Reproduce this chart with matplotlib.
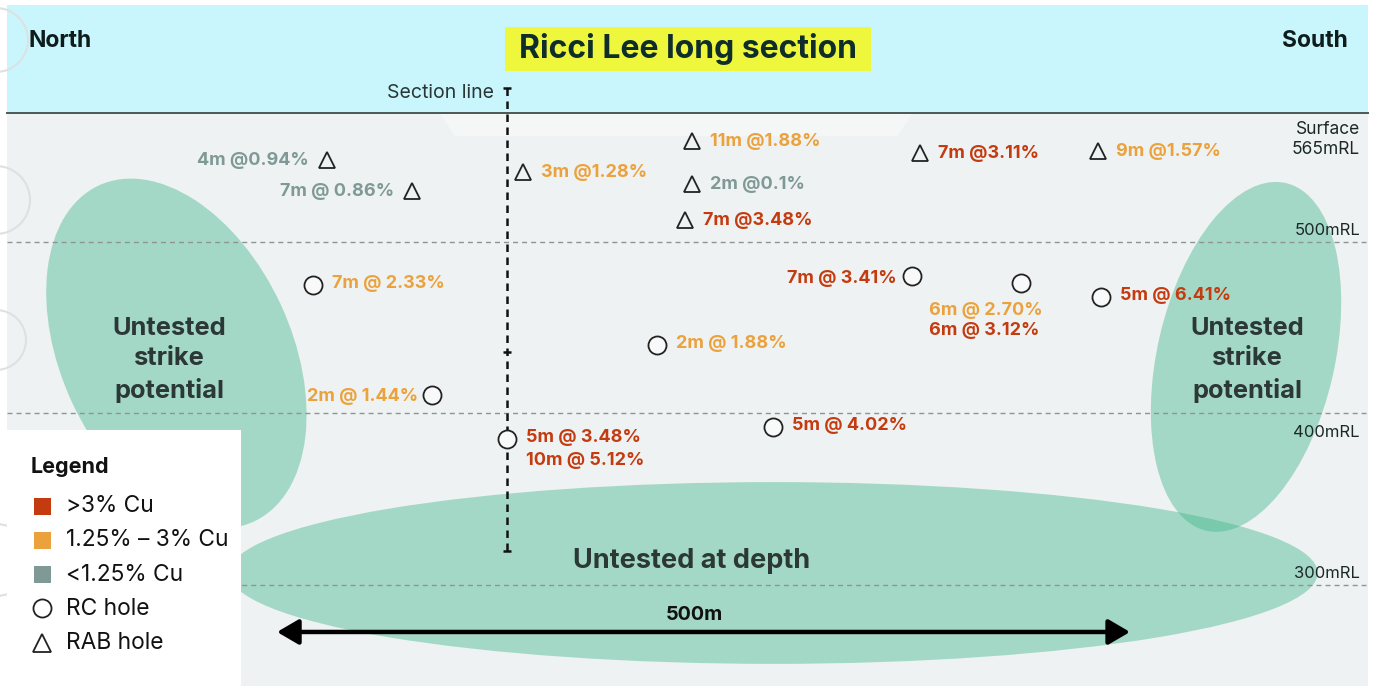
import matplotlib
matplotlib.use("Agg")
from matplotlib import pyplot as plt
from matplotlib.patches import Ellipse, Rectangle, Polygon, FancyArrowPatch
from matplotlib.transforms import blended_transform_factory

plt.rcParams['font.family'] = ['Inter', 'DejaVu Sans']

# ---- data (distance along section in m, elevation in mRL) ----
rab_x = [29, 79, 144, 243, 243, 239, 377, 481]
rab_rl = [548, 530, 541, 559, 534, 513, 552, 553]
rab_labels = ["4m @0.94%", "7m @ 0.86%", "3m @1.28%", "11m @1.88%",
              "2m @0.1%", "7m @3.48%", "7m @3.11%", "9m @1.57%"]
rab_grades = [0.94, 0.86, 1.28, 1.88, 0.1, 3.48, 3.11, 1.57]

rc_x = [21, 91, 135, 223, 291, 372, 436, 483]
rc_rl = [475, 411, 385, 440, 392, 480, 476, 468]
rc_labels = [["7m @ 2.33%"], ["2m @ 1.44%"], ["5m @ 3.48%", "10m @ 5.12%"],
             ["2m @ 1.88%"], ["5m @ 4.02%"], ["7m @ 3.41%"],
             ["6m @ 2.70%", "6m @ 3.12%"], ["5m @ 6.41%"]]
rc_grades = [[2.33], [1.44], [3.48, 5.12], [1.88], [4.02], [3.41],
             [2.70, 3.12], [6.41]]

levels = [500, 400, 300]
level_labels = ["500mRL", "400mRL", "300mRL"]

section_x = 135
section_rl = [590, 436, 320]
scale_bar = [0, 500]

legend_names = [">3% Cu", "1.25% \u2013 3% Cu", "<1.25% Cu", "RC hole", "RAB hole"]

# ---- layout ----
W, H = 1375, 686
RED = '#c43b10'
ORANGE = '#eba23c'
GREY = '#7f9a96'
ZONE = '#3fb58a'
DARK = '#1c2828'

rab_side = ['l', 'l', 'r', 'r', 'r', 'r', 'r', 'r']
rc_side = ['r', 'l', 'r', 'r', 'r', 'l', 'b', 'r']


def grade_colour(g):
    if g > 3:
        return RED
    if g >= 1.25:
        return ORANGE
    return GREY


def fp(x, y):
    # pixel position -> figure fraction
    return x / W, 1 - y / H


fig = plt.figure(figsize=(W / 100, H / 100), dpi=100)
fig.patch.set_facecolor('white')
ax = fig.add_axes([0, 0, 1, 1])
ax.set_xlim(-162.4, 643.6)
ax.set_ylim(241.1, 641.1)
ax.axis('off')

tf = fig.transFigure
tf_data = blended_transform_factory(tf, ax.transData)


def box(x0, y0, x1, y1, **kw):
    ax.add_patch(Rectangle(fp(x0, y1), (x1 - x0) / W, (y1 - y0) / H,
                           transform=tf, edgecolor='none', **kw))


def label(x, y, s, **kw):
    ax.text(*fp(x, y), s, transform=tf, **kw)


# backgrounds
box(7, 113, 1368, 686, facecolor='#eef2f2', zorder=0)
box(7, 5, 1368, 113, facecolor='#c8f6fc', zorder=0)
ax.add_patch(Polygon([fp(440, 114), fp(912, 114), fp(898, 136), fp(455, 136)],
                     closed=True, transform=tf, facecolor='#f5f7f7',
                     edgecolor='none', zorder=0.5))
ax.plot([fp(7, 0)[0], fp(1368, 0)[0]], [fp(0, 113)[1]] * 2, transform=tf,
        color='#4b5857', lw=1.4, zorder=2)

# faint watermark rings on left edge
for cy, r in [(40, 32), (200, 34), (340, 30), (560, 36)]:
    ax.add_patch(Ellipse(fp(-4, cy), 2 * r / W, 2 * r / H, transform=tf,
                         facecolor='none', edgecolor='#dde1e1', lw=1.5, zorder=1))

# untested zones
ax.add_patch(Ellipse((-59, 435), 135, 216, angle=25, facecolor=ZONE,
                     alpha=0.42, edgecolor='none', zorder=1))
ax.add_patch(Ellipse((568, 433), 104, 208, angle=-13, facecolor=ZONE,
                     alpha=0.42, edgecolor='none', zorder=1))
ax.add_patch(Ellipse((291, 307), 638, 106, angle=0, facecolor=ZONE,
                     alpha=0.42, edgecolor='none', zorder=1))

# mRL levels
for lv in levels:
    ax.plot([fp(7, 0)[0], fp(1366, 0)[0]], [lv, lv], transform=tf_data,
            color='#8d9594', lw=1.0, ls=(0, (3.6, 2.9)), zorder=2)
offsets = {500: (3, 'bottom'), 400: (-8, 'top'), 300: (3, 'bottom')}
for lv, lab in zip(levels, level_labels):
    off, v = offsets[lv]
    ax.annotate(lab, (fp(1360, 0)[0], lv), xycoords=tf_data,
                xytext=(0, off), textcoords='offset points', ha='right',
                va=v, fontsize=12, color=DARK, zorder=5)

label(1360, 129, "Surface", ha='right', va='center', fontsize=12.5, color=DARK)
label(1360, 149, "565mRL", ha='right', va='center', fontsize=12.5, color=DARK)

# section line
ax.plot([section_x, section_x], [section_rl[0], section_rl[-1]], color='#111111',
        lw=1.8, ls=(0, (3, 2.2)), zorder=3)
ax.plot([section_x] * 3, section_rl, ls='none', marker='_', ms=6, mew=1.8,
        color='#111111', zorder=3)
label(494, 93, "Section line", ha='right', va='center', fontsize=14,
      color='#2a3535')

# RAB holes
ax.plot(rab_x, rab_rl, ls='none', marker='^', ms=12, mfc='none', mec='#222222',
        mew=1.3, zorder=4)
for x, y, lab, g, s in zip(rab_x, rab_rl, rab_labels, rab_grades, rab_side):
    dx = 13 if s == 'r' else -13
    ax.annotate(lab, (x, y), xytext=(dx, -0.5), textcoords='offset points',
                ha='left' if s == 'r' else 'right', va='center', fontsize=13,
                fontweight='bold', color=grade_colour(g), zorder=5)

# RC holes
ax.plot(rc_x, rc_rl, ls='none', marker='o', ms=13, mfc='#f8fafa', mec='#222222',
        mew=1.3, zorder=4)
for x, y, labs, gs, s in zip(rc_x, rc_rl, rc_labels, rc_grades, rc_side):
    for i, (lab, g) in enumerate(zip(labs, gs)):
        if s == 'r':
            xy, ha = (13.5, 1 - 16 * i), 'left'
        elif s == 'l':
            xy, ha = (-10.5, -1.5), 'right'
        else:
            xy, ha = (-66, -20 - 14 * i), 'left'
        ax.annotate(lab, (x, y), xytext=xy, textcoords='offset points', ha=ha,
                    va='center', fontsize=13, fontweight='bold',
                    color=grade_colour(g), zorder=5)

# zone labels
for cx in (169, 1247):
    label(cx, 360, "Untested\nstrike\npotential", ha='center', va='center',
          fontsize=18.3, fontweight='bold', color='#2b3836', linespacing=1.38,
          zorder=5)
label(692, 561, "Untested at depth", ha='center', va='center',
      fontsize=19.5, fontweight='bold', color='#2b3836', zorder=5)

# scale bar
ax.add_patch(FancyArrowPatch((scale_bar[0], 272.6), (scale_bar[1], 272.6),
                             arrowstyle='<|-|>,head_length=0.65,head_width=0.38',
                             mutation_scale=20, lw=3.2, color='black',
                             shrinkA=0, shrinkB=0, zorder=5))
label(694, 615, "500m", ha='center', va='center', fontsize=14.3,
      fontweight='bold', color='#111111', zorder=5)

# title, compass
box(505, 27, 871, 71, facecolor='#eef73c', zorder=2)
label(688, 49, "Ricci Lee long section", ha='center', va='center',
      fontsize=23, fontweight='bold', color='#0f2d2a', zorder=3)
label(28, 41, "North", ha='left', va='center', fontsize=16.5,
      fontweight='bold', color='#0e1c1c', zorder=3)
label(1348, 41, "South", ha='right', va='center', fontsize=16.5,
      fontweight='bold', color='#0e1c1c', zorder=3)

# legend
box(7, 430, 241, 686, facecolor='white', zorder=6)
label(31, 467, "Legend", ha='left', va='center', fontsize=15.5,
      fontweight='bold', color='#111111', zorder=7)
for i, col in enumerate([RED, ORANGE, GREY]):
    y = 506 + 34 * i
    box(34, y - 8, 51, y + 9, facecolor=col, zorder=7)
ax.plot(*fp(42, 608), marker='o', ms=13, mfc='white', mec='#222222', mew=1.3,
        transform=tf, zorder=7)
ax.plot(*fp(42, 643), marker='^', ms=13, mfc='white', mec='#222222', mew=1.3,
        transform=tf, zorder=7)
for i, name in enumerate(legend_names):
    label(66, 506 + 34.3 * i, name, ha='left', va='center', fontsize=16.4,
          color='#111111', zorder=7)

fig.savefig("out.png", dpi=100)
